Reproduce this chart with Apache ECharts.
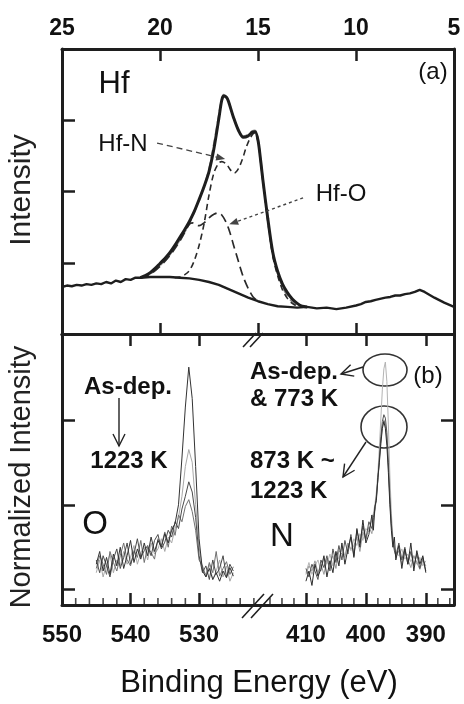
<!DOCTYPE html>
<html><head><meta charset="utf-8">
<script src="https://cdn.jsdelivr.net/npm/echarts@6/dist/echarts.min.js"></script>
<style>html,body{margin:0;padding:0;background:#fff}#c{width:464px;height:704px}</style>
</head><body><div id="c"></div>
<script>
// ---------- tick labels ----------
const topTickLabels = [25, 20, 15, 10, 5];
const oTickLabels = [550, 540, 530];
const nTickLabels = [410, 400, 390];
const oMinorTicks = [548, 546, 544, 542, 538, 536, 534, 532, 528, 526, 524, 522];
const nMinorTicks = [416, 414, 412, 408, 406, 404, 402, 398, 396, 394, 392, 388, 386];
const lowerYTicks = [0, 1, 2];

// ---------- panel (a): Hf 4f ----------
const hfBackground = [[25,0.66],[24.75,0.68],[24.5,0.67],[24.25,0.69],[24,0.68],[23.75,0.70],[23.5,0.69],[23.25,0.71],[23,0.70],[22.75,0.73],[22.5,0.71],[22.25,0.75],[22,0.73],[21.75,0.77],[21.5,0.76],[21.25,0.79],[21,0.79],[20.5,0.80],[20,0.80],[19.5,0.80],[19,0.79],[18.5,0.78],[18,0.76],[17.5,0.73],[17,0.69],[16.5,0.63],[16,0.57],[15.5,0.51],[15,0.46],[14.5,0.42],[14,0.39],[13.5,0.38],[13,0.37],[12.5,0.38],[12,0.36],[11.5,0.37],[11,0.35],[10.5,0.37],[10,0.40],[9.75,0.42],[9.5,0.45],[9.25,0.46],[9,0.48],[8.5,0.51],[8.25,0.52],[8,0.54],[7.75,0.54],[7.5,0.56],[7.25,0.57],[7,0.59],[6.75,0.62],[6.5,0.59],[6,0.51],[5.5,0.44],[5,0.38]];
const hfEnvelope = [[21,0.79],[20.75,0.82],[20.5,0.86],[20.25,0.92],[20,0.99],[19.75,1.06],[19.5,1.14],[19.25,1.24],[19,1.35],[18.75,1.46],[18.5,1.58],[18.25,1.72],[18,1.89],[17.75,2.07],[17.5,2.28],[17.25,2.60],[17,3.02],[16.85,3.28],[16.75,3.34],[16.6,3.32],[16.5,3.26],[16.25,3.04],[16,2.86],[15.75,2.76],[15.5,2.78],[15.3,2.83],[15.15,2.84],[15,2.72],[14.85,2.40],[14.75,2.16],[14.5,1.62],[14.25,1.15],[14,0.88],[13.75,0.70],[13.5,0.58],[13.25,0.49],[13,0.43],[12.75,0.39],[12.5,0.38]];
const hfFit = [[21,0.79],[20.5,0.84],[20,0.96],[19.5,1.11],[19,1.31],[18.5,1.55],[18,1.88],[17.75,2.08],[17.5,2.32],[17.25,2.68],[17,3.08],[16.85,3.30],[16.75,3.36],[16.6,3.33],[16.5,3.27],[16.25,3.05],[16,2.87],[15.75,2.78],[15.5,2.80],[15.3,2.85],[15.15,2.86],[15,2.74],[14.85,2.42],[14.75,2.18],[14.5,1.60],[14.25,1.12],[14,0.85],[13.75,0.66],[13.5,0.53],[13.25,0.45],[13,0.40]];
const hfN = [[19.25,0.79],[19,0.80],[18.75,0.83],[18.5,0.89],[18.25,1.03],[18,1.25],[17.75,1.55],[17.5,1.95],[17.25,2.26],[17,2.40],[16.85,2.42],[16.6,2.38],[16.4,2.30],[16.2,2.26],[16,2.32],[15.8,2.45],[15.6,2.62],[15.4,2.75],[15.2,2.82],[15,2.70],[14.85,2.38],[14.75,2.14],[14.5,1.58],[14.25,1.10],[14,0.82],[13.75,0.62],[13.5,0.50],[13.25,0.43],[13,0.39]];
const hfO = [[21,0.79],[20.5,0.84],[20,0.95],[19.5,1.10],[19,1.30],[18.75,1.42],[18.5,1.54],[18.35,1.56],[18.2,1.53],[18,1.52],[17.75,1.56],[17.5,1.63],[17.25,1.68],[17.05,1.70],[16.85,1.67],[16.65,1.58],[16.45,1.44],[16.25,1.25],[16,1.02],[15.75,0.80],[15.5,0.64],[15.25,0.52],[15,0.46]];

// ---------- panel (b): O 1s ----------
const oEnergy = [545,544.5,544,543.5,543,542.5,542,541.5,541,540.5,540,539.5,539,538.5,538,537.5,537,536.5,536,535.5,535,534.5,534,533.5,533,532.5,532,531.5,531,530.5,530,529.5,529,528.5,528,527.5,527,526.5,526,525.5,525];
const oAsDep = [0.30,0.45,0.22,0.38,0.18,0.42,0.28,0.50,0.25,0.40,0.58,0.32,0.48,0.36,0.55,0.40,0.62,0.45,0.58,0.50,0.66,0.55,0.70,0.78,1.00,1.55,2.15,2.62,2.25,1.45,0.60,0.22,0.15,0.25,0.12,0.20,0.10,0.22,0.14,0.26,0.16];
const o773 = [0.20,0.35,0.15,0.30,0.42,0.20,0.35,0.28,0.45,0.30,0.38,0.52,0.30,0.44,0.50,0.35,0.55,0.42,0.48,0.60,0.45,0.62,0.55,0.72,0.85,1.10,1.45,1.65,1.50,1.00,0.50,0.25,0.18,0.30,0.12,0.22,0.35,0.15,0.28,0.10,0.20];
const o873 = [0.35,0.20,0.40,0.28,0.15,0.36,0.48,0.25,0.38,0.55,0.30,0.42,0.60,0.38,0.46,0.52,0.40,0.58,0.65,0.48,0.56,0.70,0.62,0.80,0.72,0.95,1.10,1.27,1.15,0.85,0.40,0.20,0.28,0.12,0.35,0.18,0.25,0.40,0.15,0.30,0.22];
const o1223 = [0.25,0.40,0.30,0.18,0.45,0.32,0.22,0.40,0.55,0.35,0.28,0.46,0.38,0.58,0.32,0.50,0.44,0.36,0.60,0.52,0.68,0.50,0.75,0.64,0.88,0.80,0.98,1.06,0.92,0.70,0.35,0.28,0.15,0.32,0.20,0.45,0.16,0.25,0.33,0.18,0.27];

// ---------- panel (b): N 1s ----------
const nEnergy = [410,409.5,409,408.5,408,407.5,407,406.5,406,405.5,405,404.5,404,403.5,403,402.5,402,401.5,401,400.5,400,399.5,399,398.75,398.5,398.25,398,397.75,397.5,397.25,397,396.75,396.5,396.25,396,395.75,395.5,395.25,395,394.5,394,393.5,393,392.5,392,391.5,391,390.5,390];
const nAsDep = [0.20,0.32,0.18,0.28,0.35,0.22,0.38,0.30,0.42,0.28,0.45,0.36,0.50,0.40,0.55,0.46,0.60,0.52,0.66,0.58,0.72,0.68,0.82,0.90,1.00,1.15,1.38,1.68,2.02,2.36,2.60,2.68,2.45,1.95,1.35,0.90,0.62,0.50,0.44,0.40,0.48,0.36,0.42,0.33,0.40,0.30,0.38,0.28,0.34];
const n873 = [0.25,0.15,0.30,0.22,0.12,0.35,0.26,0.40,0.22,0.48,0.32,0.52,0.35,0.58,0.42,0.65,0.40,0.70,0.55,0.75,0.60,0.80,0.72,0.85,0.95,1.10,1.30,1.55,1.80,1.98,2.06,2.02,1.85,1.50,1.10,0.78,0.58,0.46,0.40,0.55,0.35,0.50,0.30,0.45,0.28,0.42,0.25,0.38,0.22];
const n1023 = [0.18,0.28,0.22,0.34,0.20,0.30,0.18,0.36,0.32,0.40,0.25,0.46,0.42,0.38,0.55,0.48,0.52,0.62,0.45,0.68,0.58,0.74,0.66,0.80,0.92,1.08,1.28,1.52,1.75,1.92,2.00,1.95,1.78,1.45,1.05,0.75,0.56,0.48,0.38,0.46,0.30,0.44,0.36,0.26,0.40,0.32,0.24,0.35,0.28];
const n1223 = [0.10,0.22,0.05,0.30,0.16,0.24,0.40,0.15,0.34,0.20,0.45,0.28,0.55,0.30,0.48,0.62,0.38,0.72,0.50,0.82,0.55,0.65,0.88,0.70,0.98,1.05,1.32,1.50,1.72,1.90,1.98,1.90,1.70,1.38,1.00,0.70,0.50,0.62,0.35,0.52,0.25,0.48,0.30,0.55,0.22,0.46,0.30,0.40,0.20];

function pairs(xs, ys) { return xs.map((x, i) => [x, ys[i]]); }

const FONT = '"Liberation Sans", Arial, Helvetica, sans-serif';
const INK = '#1e1e1e';
const frameLine = { show: true, onZero: false, lineStyle: { color: INK, width: 3 } };
const noLabel = { show: false };
const noSplit = { show: false };
function ticks(len, custom, width) {
  const t = { show: true, inside: true, length: len, lineStyle: { color: INK, width: width || 2.5 } };
  if (custom) t.customValues = custom;
  return t;
}
const boldLabel = (custom) => {
  const l = { show: true, fontFamily: FONT, fontWeight: 'bold', fontSize: 24, color: '#111', margin: 18 };
  if (custom) l.customValues = custom;
  return l;
};

const oMin = 521.4, oMax = 550, nMin = 385.3, nMax = 418;
const yLowMin = -0.18, yLowMax = 3.01;

function line(name, data, xi, yi, color, width, type, smooth) {
  return {
    name, type: 'line', data, xAxisIndex: xi, yAxisIndex: yi, symbol: 'none',
    smooth: smooth || false, silent: true, animation: false,
    lineStyle: { color, width, type: type || 'solid' }
  };
}
function minorTickSeries(values, xi, yi) {
  return {
    type: 'scatter', xAxisIndex: xi, yAxisIndex: yi, silent: true, clip: false, animation: false,
    data: values.map(v => [v, yLowMin]), symbol: 'rect', symbolSize: [1.6, 6], symbolOffset: [0, -4],
    itemStyle: { color: INK }, z: 1
  };
}

function arrowHead(x1, y1, x2, y2, size, spread) {
  const dx = x2 - x1, dy = y2 - y1, L = Math.hypot(dx, dy);
  const ux = dx / L, uy = dy / L, px = -uy, py = ux;
  const bx = x2 - ux * size, by = y2 - uy * size;
  return [[bx + px * spread, by + py * spread], [x2, y2], [bx - px * spread, by - py * spread]];
}
function openArrow(x1, y1, x2, y2) {
  return [
    { type: 'polyline', shape: { points: [[x1, y1], [x2, y2]] }, style: { stroke: '#222', lineWidth: 1.4, fill: null } },
    { type: 'polyline', shape: { points: arrowHead(x1, y1, x2, y2, 12, 6) }, style: { stroke: '#222', lineWidth: 1.4, fill: null } }
  ];
}
function txt(text, x, y, size, bold, align) {
  return { type: 'text', x, y, style: { text, fill: '#111', font: (bold ? 'bold ' : '') + size + 'px ' + FONT, textAlign: align || 'center', textVerticalAlign: 'middle' } };
}
function breakMark(x1, y1, x2, y2, gap) {
  return [
    { type: 'polygon', shape: { points: [[x1, y1], [x2, y2], [x2 + gap, y2], [x1 + gap, y1]] }, style: { fill: '#fff', stroke: null } },
    { type: 'line', shape: { x1, y1, x2, y2 }, style: { stroke: INK, lineWidth: 1.6 } },
    { type: 'line', shape: { x1: x1 + gap, y1, x2: x2 + gap, y2 }, style: { stroke: INK, lineWidth: 1.6 } }
  ];
}

const chart = echarts.init(document.getElementById('c'), null, { renderer: 'canvas' });

const option = {
  animation: false,
  backgroundColor: '#fff',
  grid: [
    { left: 62, top: 49, width: 392, height: 285 },
    { left: 62, top: 334, width: 196, height: 271 },
    { left: 258, top: 334, width: 196, height: 271 }
  ],
  xAxis: [
    { gridIndex: 0, type: 'value', position: 'top', min: 5, max: 25, interval: 5, inverse: true,
      axisLine: frameLine, axisTick: ticks(12), axisLabel: Object.assign(boldLabel(), { fontSize: 23, margin: 9 }), splitLine: noSplit },
    { gridIndex: 0, type: 'value', position: 'bottom', min: 5, max: 25, interval: 5, inverse: true,
      axisLine: frameLine, axisTick: ticks(11), axisLabel: noLabel, splitLine: noSplit },
    { gridIndex: 1, type: 'value', position: 'bottom', min: oMin, max: oMax, inverse: true,
      axisLine: frameLine, axisTick: ticks(12, [540, 530]), axisLabel: boldLabel(oTickLabels), splitLine: noSplit },
    { gridIndex: 1, type: 'value', position: 'top', min: oMin, max: oMax, inverse: true,
      axisLine: frameLine, axisTick: ticks(12, [540, 530]), axisLabel: noLabel, splitLine: noSplit },
    { gridIndex: 2, type: 'value', position: 'bottom', min: nMin, max: nMax, inverse: true,
      axisLine: frameLine, axisTick: ticks(12, [410, 400, 390]), axisLabel: boldLabel(nTickLabels), splitLine: noSplit },
    { gridIndex: 2, type: 'value', position: 'top', min: nMin, max: nMax, inverse: true,
      axisLine: frameLine, axisTick: ticks(12, [410, 400, 390]), axisLabel: noLabel, splitLine: noSplit }
  ],
  yAxis: [
    { gridIndex: 0, type: 'value', position: 'left', min: 0, max: 4, interval: 1,
      axisLine: frameLine, axisTick: ticks(13), axisLabel: noLabel, splitLine: noSplit },
    { gridIndex: 0, type: 'value', position: 'right', min: 0, max: 4, interval: 1,
      axisLine: frameLine, axisTick: { show: false }, axisLabel: noLabel, splitLine: noSplit },
    { gridIndex: 1, type: 'value', position: 'left', min: yLowMin, max: yLowMax,
      axisLine: frameLine, axisTick: ticks(13, lowerYTicks), axisLabel: noLabel, splitLine: noSplit },
    { gridIndex: 2, type: 'value', position: 'right', min: yLowMin, max: yLowMax,
      axisLine: frameLine, axisTick: ticks(13, lowerYTicks), axisLabel: noLabel, splitLine: noSplit }
  ],
  series: [
    line('Fit sum', hfFit, 0, 0, '#8c8c8c', 1.6, [8, 4], 0.3),
    line('Hf-O', hfO, 0, 0, '#2a2a2a', 1.7, [9, 5], 0.3),
    line('Hf-N', hfN, 0, 0, '#2a2a2a', 1.6, [6, 4], 0.3),
    line('Background', hfBackground, 0, 0, INK, 2.4, 'solid', false),
    Object.assign(line('Measured', hfEnvelope, 0, 0, INK, 3, 'solid', 0.3), {
      markLine: {
        silent: true, symbol: ['none', 'triangle'], symbolSize: [7, 9], label: { show: false },
        data: [
          [{ coord: [20.15, 2.68], lineStyle: { color: '#444', width: 1.3, type: [6, 4] } }, { coord: [16.9, 2.47] }],
          [{ coord: [12.7, 1.91], lineStyle: { color: '#444', width: 1.4, type: [3, 3] } }, { coord: [16.25, 1.56] }]
        ]
      }
    }),
    line('O 773 K', pairs(oEnergy, o773), 2, 2, '#a8a8a8', 1),
    line('O 1223 K', pairs(oEnergy, o1223), 2, 2, '#707070', 1),
    line('O 873 K', pairs(oEnergy, o873), 2, 2, '#4a4a4a', 1),
    line('O As-dep.', pairs(oEnergy, oAsDep), 2, 2, '#333', 1),
    line('N As-dep.', pairs(nEnergy, nAsDep), 4, 3, '#b4b4b4', 1),
    line('N 1023 K', pairs(nEnergy, n1023), 4, 3, '#9a9a9a', 1),
    line('N 873 K', pairs(nEnergy, n873), 4, 3, '#555', 1),
    line('N 1223 K', pairs(nEnergy, n1223), 4, 3, '#2e2e2e', 1),
    minorTickSeries(oMinorTicks, 2, 2),
    minorTickSeries(nMinorTicks, 4, 3)
  ],
  graphic: [].concat(
    breakMark(243, 347, 256, 333, 7),
    breakMark(242, 618, 264, 594, 9),
    [
      { type: 'text', x: 22, y: 190, rotation: Math.PI / 2, style: { text: 'Intensity', fill: '#222', font: '30px ' + FONT, textAlign: 'center', textVerticalAlign: 'middle' } },
      { type: 'text', x: 22, y: 477, rotation: Math.PI / 2, style: { text: 'Normalized Intensity', fill: '#222', font: '29px ' + FONT, textAlign: 'center', textVerticalAlign: 'middle' } },
      txt('Binding Energy (eV)', 259, 683, 31, false),
      txt('Hf', 114, 84, 31, false),
      txt('(a)', 433, 72, 24, false),
      txt('Hf-N', 123, 144, 24, false),
      txt('Hf-O', 341, 194, 24, false),
      txt('As-dep.', 128, 387, 24, true),
      txt('1223 K', 129, 461, 24, true),
      txt('O', 95, 525, 33, false),
      txt('N', 282, 537, 33, false),
      txt('As-dep.', 250, 372, 24, true, 'left'),
      txt('& 773 K', 250, 399, 24, true, 'left'),
      txt('(b)', 428, 376, 24, false),
      txt('873 K ~', 250, 461, 24, true, 'left'),
      txt('1223 K', 250, 491, 24, true, 'left'),
      { type: 'ellipse', shape: { cx: 385, cy: 370, rx: 22, ry: 16 }, style: { fill: null, stroke: '#333', lineWidth: 1.6 } },
      { type: 'ellipse', shape: { cx: 384, cy: 427, rx: 23, ry: 21 }, style: { fill: null, stroke: '#333', lineWidth: 1.6 } }
    ],
    openArrow(119, 398, 119, 446),
    openArrow(363, 367, 341, 374),
    openArrow(366, 442, 343, 477)
  )
};
chart.setOption(option);
</script>
</body></html>
